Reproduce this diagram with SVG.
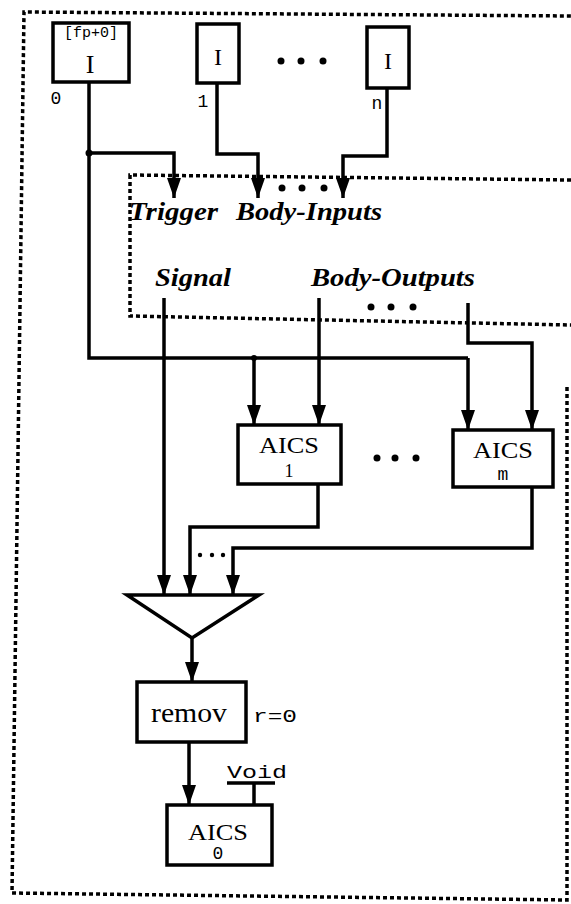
<svg xmlns="http://www.w3.org/2000/svg" width="571" height="904" viewBox="0 0 571 904">
<defs>
<marker id="ah" markerUnits="userSpaceOnUse" markerWidth="20" markerHeight="14" viewBox="0 0 20 14" refX="20" refY="7" orient="auto">
<path d="M0,0 L20,7 L0,14 Z" fill="#000"/>
</marker>
<style>
.dot{fill:none;stroke:#000;stroke-width:3.5;stroke-dasharray:4 3}
.box{fill:#fff;stroke:#000;stroke-width:3.5}
.ln{fill:none;stroke:#000;stroke-width:3.5}
.ar{fill:none;stroke:#000;stroke-width:3.5;marker-end:url(#ah)}
.serif{font-family:"Liberation Serif","Times New Roman",serif;fill:#000}
.mono{font-family:"Liberation Mono","Courier New",monospace;fill:#000}
.ital{font-family:"Liberation Serif","Times New Roman",serif;font-style:italic;font-weight:bold;fill:#000;font-size:25px}
</style>
</defs>
<rect width="571" height="904" fill="#fff"/>
<g id="outer-box">
<path class="dot" d="M567,387 L567,900 L12,893 L24,12 L571,16"/>
</g>
<g id="inner-box">
<path class="dot" d="M571,180 L130,175 L130,316 L571,325"/>
<text class="ital" x="129" y="220" textLength="89" lengthAdjust="spacingAndGlyphs">Trigger</text>
<text class="ital" x="236" y="220" textLength="146" lengthAdjust="spacingAndGlyphs">Body-Inputs</text>
<text class="ital" x="155" y="286" textLength="76" lengthAdjust="spacingAndGlyphs">Signal</text>
<text class="ital" x="311" y="286" textLength="164" lengthAdjust="spacingAndGlyphs">Body-Outputs</text>
<circle cx="282" cy="188" r="3.5"/><circle cx="302" cy="188" r="3.5"/><circle cx="324" cy="188" r="3.5"/>
<circle cx="371" cy="307" r="3.5"/><circle cx="391" cy="307" r="3.5"/><circle cx="413" cy="307" r="3.5"/>
</g>
<g id="connectors">
<path class="ln" d="M89,82 L89,358 L468,358"/>
<path class="ar" d="M89,153 L174,153 L174,198"/>
<circle cx="89" cy="153" r="3.5"/>
<path class="ar" d="M217,83 L217,154 L258,154 L258,198"/>
<path class="ar" d="M387,88 L387,156 L343,156 L343,198"/>
<path class="ar" d="M254,358 L254,425"/>
<circle cx="254" cy="358" r="3"/>
<path class="ar" d="M468,358 L468,430"/>
<path class="ar" d="M319,298 L319,425"/>
<path class="ar" d="M468,303 L468,343 L532,343 L532,430"/>
<path class="ar" d="M164,298 L164,595"/>
<path class="ar" d="M318,484 L318,527 L190,527 L190,595"/>
<path class="ar" d="M532,487 L532,548 L233,548 L233,595"/>
<path class="ar" d="M192,638 L192,682"/>
<path class="ar" d="M189,742 L189,805"/>
<path class="ln" d="M227,783 L275,783 M254,783 L254,805"/>
<circle cx="200" cy="555" r="2.2"/><circle cx="212" cy="555" r="2.2"/><circle cx="223" cy="555" r="2.2"/>
</g>
<g id="I0">
<rect class="box" x="53" y="23" width="76" height="59"/>
<text class="mono" x="91" y="37" font-size="15" text-anchor="middle">[fp+0]</text>
<text class="serif" x="90" y="73" font-size="26" text-anchor="middle">I</text>
<text class="mono" x="56" y="104" font-size="18" text-anchor="middle">0</text>
</g>
<g id="I1">
<rect class="box" x="197" y="24" width="42" height="59"/>
<text class="serif" x="218" y="65" font-size="24" text-anchor="middle">I</text>
<text class="mono" x="203" y="107" font-size="18" text-anchor="middle">1</text>
</g>
<g id="dots-inputs">
<circle cx="281" cy="61" r="3.5"/><circle cx="301" cy="61" r="3.5"/><circle cx="323" cy="61" r="3.5"/>
</g>
<g id="In">
<rect class="box" x="367" y="27" width="42" height="61"/>
<text class="serif" x="388" y="69" font-size="24" text-anchor="middle">I</text>
<text class="mono" x="377" y="109" font-size="18" text-anchor="middle">n</text>
</g>
<g id="AICS1">
<rect class="box" x="238" y="425" width="103" height="59"/>
<text class="serif" x="289" y="453" font-size="23" text-anchor="middle" textLength="60" lengthAdjust="spacingAndGlyphs">AICS</text>
<text class="serif" x="289" y="477" font-size="18" text-anchor="middle">1</text>
</g>
<g id="dots-aics">
<circle cx="377" cy="458" r="3.5"/><circle cx="395" cy="458" r="3.5"/><circle cx="416" cy="458" r="3.5"/>
</g>
<g id="AICSm">
<rect class="box" x="453" y="430" width="100" height="57"/>
<text class="serif" x="503" y="458" font-size="23" text-anchor="middle" textLength="60" lengthAdjust="spacingAndGlyphs">AICS</text>
<text class="mono" x="503" y="480" font-size="18" text-anchor="middle">m</text>
</g>
<g id="merge">
<path class="box" d="M127,595 L259,595 L192,638 Z"/>
</g>
<g id="remov">
<rect class="box" x="137" y="682" width="109" height="60"/>
<text class="serif" x="189" y="722" font-size="27" text-anchor="middle" textLength="76" lengthAdjust="spacingAndGlyphs">remov</text>
<text class="mono" x="253" y="722" font-size="18" textLength="44" lengthAdjust="spacingAndGlyphs">r=0</text>
</g>
<g id="AICS0">
<text class="mono" x="227" y="778" font-size="18" textLength="60" lengthAdjust="spacingAndGlyphs">Void</text>
<rect class="box" x="167" y="805" width="105" height="60"/>
<text class="serif" x="218" y="840" font-size="23" text-anchor="middle" textLength="60" lengthAdjust="spacingAndGlyphs">AICS</text>
<text class="mono" x="218" y="859" font-size="18" text-anchor="middle">0</text>
</g>
</svg>
